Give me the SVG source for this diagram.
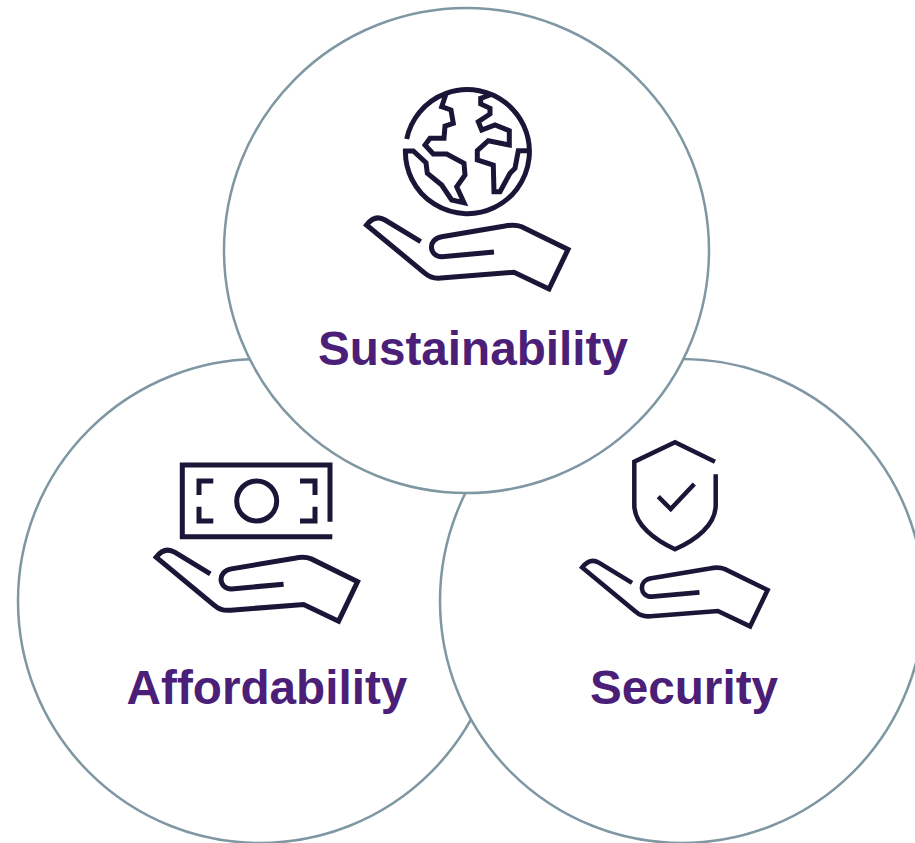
<svg xmlns="http://www.w3.org/2000/svg" width="915" height="843" viewBox="0 0 915 843">
<style>
.c{fill:#fff;stroke:#7f97a3;stroke-width:2.5}
.i{fill:none;stroke:#1c1538;stroke-width:5;stroke-linejoin:miter}
.t{font-family:"Liberation Sans",Arial,sans-serif;font-weight:700;font-size:47.7px;fill:#4b1e78;text-anchor:middle}
</style>
<defs>
<path id="hand" class="i" d="M420.7 241.7L385 220Q375 214 366.5 225L425 273.3Q431 279 441 278L514 272.3L549 289L568 249.5L521.7 226.7Q515 224 505 226L441.7 236.7C427 239 429 257 442 256.7L494 252"/>
</defs>
<rect width="915" height="843" fill="#fff"/>
<g id="affordability">
<circle class="c" cx="260" cy="601" r="242"/>
<use href="#hand" transform="translate(-210.4 332.2)"/>
<path class="i" d="M330 521.7V465H182.3V536.7H332.3"/>
<circle class="i" cx="256.7" cy="501" r="20"/>
<path class="i" d="M213.3 481H199V495M199 506.7V521H213.3M300 481H315V495M315 506.7V521H300"/>
<text class="t" x="267" y="704">Affordability</text>
</g>
<g id="security">
<circle class="c" cx="682" cy="601" r="242"/>
<use href="#hand" transform="translate(245 360.5) scale(.92)"/>
<path class="i" style="stroke-width:4.5" d="M715 461.7L675 442.3L634.3 461.7V505C634.3 525 655 540 675 549.3C696 540 715.7 525 715.7 505V474.3"/>
<path class="i" style="stroke-width:4.5" d="M658.3 496.7L670.7 509L694.3 484"/>
<text class="t" x="684" y="704">Security</text>
</g>
<g id="sustainability">
<circle class="c" cx="466.5" cy="250.5" r="242.5"/>
<path class="i" d="M406.7 139A62 62 0 1 1 405.4 151H413.3L426 162.7L427.3 173.3L441.7 185L451.7 200L464 202.7L456.7 186.7L465 175L464 163.3L446.7 154H433.3L425 145L430 138.3H444L445 126L453.3 123.3L451 110L441.7 106.7L446 94M490 95L480.7 98.3V104L490 108.3V114L478.3 121.7L481.7 130L495 125L509.3 130.7V145L488.3 140.7L477.3 150.7V160L493.3 165L494 191.7H500L510 173.3L515 168.3L518.3 150.7H529.5"/>
<use href="#hand"/>
<text class="t" x="473" y="365">Sustainability</text>
</g>
</svg>
